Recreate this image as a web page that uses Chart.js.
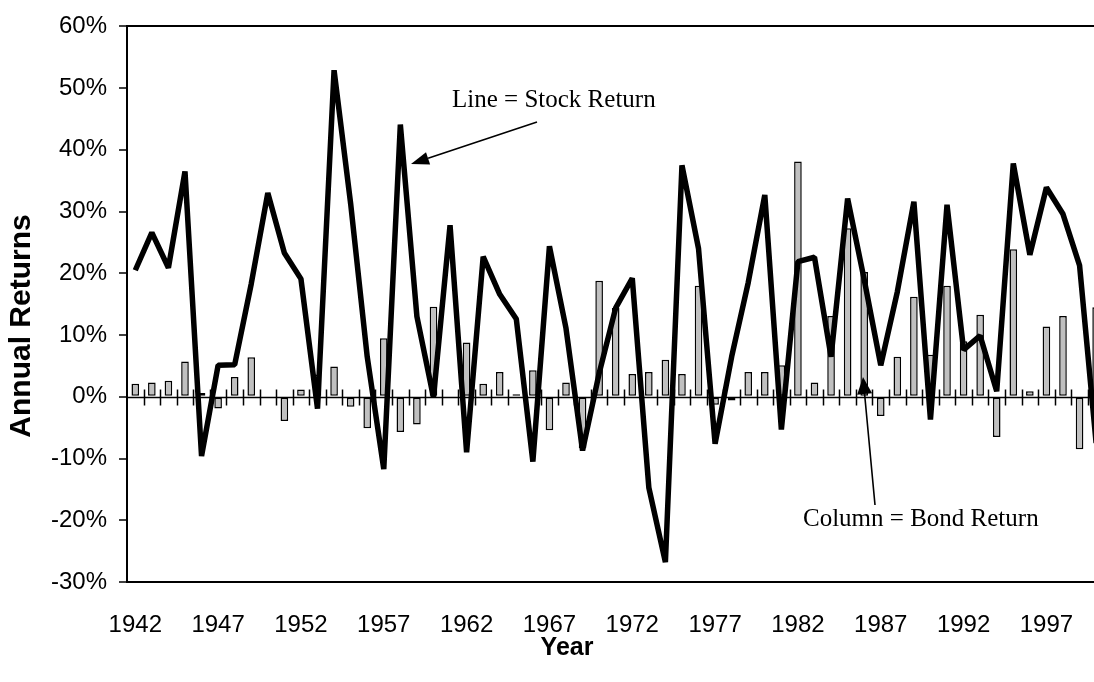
<!DOCTYPE html>
<html>
<head>
<meta charset="utf-8">
<script src="https://cdn.jsdelivr.net/npm/chart.js@4.4.1/dist/chart.umd.min.js"></script>
<style>
  html, body { margin: 0; padding: 0; background: #fff; overflow: hidden; width: 1094px; height: 682px; }
  #wrap { width: 1094px; height: 682px; overflow: hidden; position: relative; }
  #c { display: block; }
</style>
</head>
<body>
<div id="wrap"><canvas id="c" width="1110" height="682"></canvas></div>
<script>
// ---- data (percent) ----
const years = [];
for (let y = 1942; y <= 2000; y++) years.push(String(y));

const stockReturns = [20.5, 26.6, 20.9, 36.5, -9.6, 5.1, 5.2, 18.3, 33.0, 23.3,
  19.1, -1.9, 52.9, 31.3, 6.5, -11.7, 44.1, 13.0, -0.1, 27.8,
  -9.0, 22.7, 16.6, 12.6, -10.5, 24.4, 11.1, -8.7, 3.8, 14.4,
  19.2, -14.7, -26.8, 37.5, 24.0, -7.6, 6.5, 18.5, 32.7, -5.3,
  21.9, 22.6, 6.5, 32.1, 19.0, 5.1, 17.0, 31.6, -3.7, 31.1,
  7.6, 9.9, 0.9, 37.8, 23.0, 33.9, 29.6, 21.3, -7.5];

const bondReturns = [2.1, 2.3, 2.6, 5.7, 0.6, -1.9, 3.2, 6.4, 0.0, -3.9,
  1.2, 3.6, 4.9, -1.6, -5.1, 9.5, -5.7, -4.5, 14.6, 0.0,
  8.8, 2.1, 4.0, 0.4, 4.3, -5.4, 2.3, -8.3, 18.8, 14.4,
  3.7, 4.0, 6.0, 3.7, 18.0, -1.3, -0.6, 4.0, 4.0, 5.1,
  38.1, 2.3, 13.1, 27.3, 20.2, -3.1, 6.5, 16.2, 6.8, 18.0,
  9.0, 13.3, -6.5, 23.9, 0.9, 11.4, 13.1, -8.5, 14.5];

const yTicks = [60, 50, 40, 30, 20, 10, 0, -10, -20, -30];
const labelEvery = 5;

// ---- decorations: zero axis with cross ticks, annotations, titles ----
const decor = {
  id: 'decor',
  beforeDatasetsDraw(chart) {
    const {ctx, chartArea, scales: {x, y}} = chart;
    const y0 = Math.round(y.getPixelForValue(0)) + 0.5;
    ctx.save();
    ctx.strokeStyle = '#000';
    ctx.lineWidth = 1.5;
    ctx.beginPath();
    ctx.moveTo(chartArea.left, y0);
    ctx.lineTo(chartArea.right, y0);
    const n = x.ticks.length;
    const half = (x.getPixelForValue(1) - x.getPixelForValue(0)) / 2;
    for (let i = 1; i <= n; i++) {
      const px = Math.round(x.getPixelForValue(i) - half) + 0.5;
      ctx.moveTo(px, y0 - 8);
      ctx.lineTo(px, y0 + 8);
    }
    ctx.stroke();
    ctx.restore();
  },
  afterDatasetsDraw(chart) {
    const {ctx} = chart;
    ctx.save();
    ctx.fillStyle = '#000';
    ctx.strokeStyle = '#000';
    ctx.font = '25px "Liberation Serif", "Times New Roman", serif';
    ctx.textBaseline = 'alphabetic';
    ctx.textAlign = 'left';
    ctx.fillText('Line = Stock Return', 452, 107);
    ctx.fillText('Column = Bond Return', 803, 526);
    function arrow(x1, y1, x2, y2, len, hw) {
      const a = Math.atan2(y2 - y1, x2 - x1);
      const bx = x2 - len * Math.cos(a), by = y2 - len * Math.sin(a);
      ctx.lineWidth = 1.6;
      ctx.beginPath();
      ctx.moveTo(x1, y1);
      ctx.lineTo(bx, by);
      ctx.stroke();
      ctx.beginPath();
      ctx.moveTo(x2, y2);
      ctx.lineTo(bx + hw * Math.sin(a), by - hw * Math.cos(a));
      ctx.lineTo(bx - hw * Math.sin(a), by + hw * Math.cos(a));
      ctx.closePath();
      ctx.fill();
    }
    arrow(537, 122, 411, 164, 18, 6.5);
    arrow(875, 505, 863, 377, 17, 7.5);
    ctx.font = 'bold 25px "Liberation Sans", Arial, sans-serif';
    ctx.textAlign = 'center';
    ctx.textBaseline = 'middle';
    ctx.fillText('Year', 567, 648);
    ctx.translate(22, 326);
    ctx.rotate(-Math.PI / 2);
    ctx.font = 'bold 30px "Liberation Sans", Arial, sans-serif';
    ctx.fillText('Annual Returns', 0, 0);
    ctx.restore();
  }
};

new Chart(document.getElementById('c'), {
  type: 'bar',
  data: {
    labels: years,
    datasets: [
      {
        type: 'line',
        label: 'Stock Return',
        data: stockReturns,
        borderColor: '#000',
        borderWidth: 5.5,
        borderJoinStyle: 'bevel',
        pointRadius: 0,
        tension: 0,
        fill: false,
        order: 0
      },
      {
        type: 'bar',
        label: 'Bond Return',
        data: bondReturns,
        backgroundColor: '#c0c0c0',
        borderColor: '#000',
        borderWidth: 1.5,
        borderSkipped: false,
        barPercentage: 0.46,
        categoryPercentage: 1.0,
        order: 1
      }
    ]
  },
  options: {
    responsive: false,
    animation: false,
    devicePixelRatio: 1,
    layout: { padding: { left: 0, top: 23, right: 5.6, bottom: 0 } },
    plugins: { legend: { display: false }, tooltip: { enabled: false } },
    scales: {
      x: {
        offset: true,
        grid: { display: true, drawOnChartArea: false, drawTicks: true, tickLength: 29, tickColor: 'rgba(0,0,0,0)', color: 'rgba(0,0,0,0)' },
        border: { display: false },
        ticks: {
          autoSkip: false,
          maxRotation: 0,
          padding: 0,
          color: '#000',
          font: { family: '"Liberation Sans", Arial, sans-serif', size: 24 },
          callback: function (v, i) { return (i % labelEvery === 0 && i < 58) ? years[i] : ''; }
        },
        afterFit: s => { s.height = 100; }
      },
      y: {
        min: -30,
        max: 60,
        afterBuildTicks: s => { s.ticks = yTicks.map(v => ({ value: v })); },
        grid: {
          drawOnChartArea: true,
          color: ctx => (ctx.tick && (ctx.tick.value === 60 || ctx.tick.value === -30)) ? '#000' : 'rgba(0,0,0,0)',
          lineWidth: 2,
          tickColor: '#000',
          tickLength: 8,
          tickWidth: 1.5
        },
        border: { display: true, color: '#000', width: 2 },
        ticks: {
          padding: 12,
          color: '#000',
          font: { family: '"Liberation Sans", Arial, sans-serif', size: 24 },
          callback: v => v + '%'
        },
        afterFit: s => { s.width = 127; }
      }
    }
  },
  plugins: [decor]
});
</script>
</body>
</html>
